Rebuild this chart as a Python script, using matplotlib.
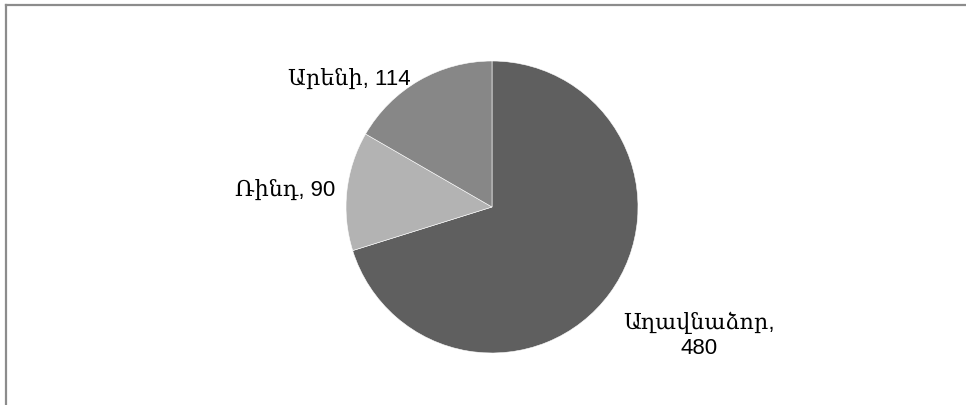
import numpy as np
import matplotlib.pyplot as plt
from matplotlib.lines import Line2D

# data
villages = ['Աղավնաձոր', 'Ռինդ', 'Արենի']
counts = [480, 90, 114]
colors = ['#5f5f5f', '#b3b3b3', '#878787']
# label centres, in units of pie radius
label_pos = [(1.42, -0.87), (-1.418, 0.12), (-0.975, 0.885)]
label_text = ['Աղավնաձոր,\n480', 'Ռինդ, 90', 'Արենի, 114']

W, H = 966, 406
cx, cy, r = 492, 208, 146

fig = plt.figure(figsize=(W / 100, H / 100), dpi=100)
ax = fig.add_axes([0, 0, 1, 1])
ax.pie(counts, colors=colors, startangle=90, counterclock=False, radius=1,
       wedgeprops=dict(edgecolor='white', linewidth=0.4))
ax.set_xlim(-cx / r, (W - cx) / r)
ax.set_ylim(-(H - cy) / r, cy / r)
ax.set_aspect('equal')
ax.axis('off')

for (x, y), t in zip(label_pos, label_text):
    ax.text(x, y, t, ha='center', va='center', fontsize=16,
            family=['Liberation Sans', 'DejaVu Serif'], linespacing=1.25)

# chart frame (top and left edges visible)
fig.add_artist(Line2D([5.5 / W, 1], [1 - 5.5 / H, 1 - 5.5 / H], color='#8c8c8c', lw=1.6))
fig.add_artist(Line2D([5.5 / W, 5.5 / W], [0, 1 - 5.5 / H], color='#8c8c8c', lw=1.6))

fig.savefig('out.png', dpi=100)
